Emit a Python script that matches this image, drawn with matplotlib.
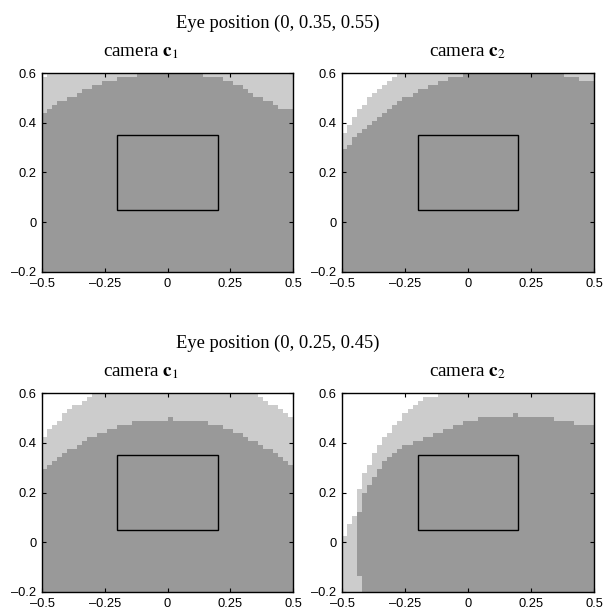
import numpy as np
import matplotlib
matplotlib.use("Agg")
import matplotlib.pyplot as plt
from matplotlib.colors import ListedColormap
from matplotlib.patches import Rectangle

plt.rcParams['mathtext.fontset'] = 'stix'

# ── grid of the region maps (50 x 50 cells) ─────────────────────────────
x_edges = np.linspace(-0.5, 0.5, 51)
y_edges = np.linspace(-0.2, 0.6, 51)

# screen rectangle drawn in every panel
screen_x = [-0.2, 0.2]
screen_y = [0.05, 0.35]

titles = ["Eye position (0, 0.35, 0.55)", "Eye position (0, 0.25, 0.45)"]
cameras = [r"camera $\mathbf{c}_1$", r"camera $\mathbf{c}_2$"]

xticks = [-0.5, -0.25, 0, 0.25, 0.5]
xtick_labels = ["\u20130.5", "\u20130.25", "0", "0.25", "0.5"]
yticks = [-0.2, 0, 0.2, 0.4, 0.6]
ytick_labels = ["\u20130.2", "0", "0.2", "0.4", "0.6"]

# ── upper limit of the dark / light areas for each column ───────────────
# eye (0, 0.35, 0.55), camera c1
p1_dark_top = [0.44, 0.456, 0.472, 0.488, 0.488, 0.504, 0.504, 0.52, 0.536, 0.536,
               0.552, 0.552, 0.568, 0.568, 0.568, 0.584, 0.584, 0.584, 0.584, 0.6,
               0.6, 0.6, 0.6, 0.6, 0.6, 0.6, 0.6, 0.6, 0.6, 0.6,
               0.6, 0.6, 0.584, 0.584, 0.584, 0.584, 0.568, 0.568, 0.552, 0.552,
               0.536, 0.52, 0.504, 0.504, 0.488, 0.488, 0.472, 0.456, 0.456, 0.456]
p1_light_top = [0.584, 0.6, 0.6, 0.6, 0.6, 0.6, 0.6, 0.6, 0.6, 0.6,
                0.6, 0.6, 0.6, 0.6, 0.6, 0.6, 0.6, 0.6, 0.6, 0.6,
                0.6, 0.6, 0.6, 0.6, 0.6, 0.6, 0.6, 0.6, 0.6, 0.6,
                0.6, 0.6, 0.6, 0.6, 0.6, 0.6, 0.6, 0.6, 0.6, 0.6,
                0.6, 0.6, 0.6, 0.6, 0.6, 0.6, 0.6, 0.6, 0.6, 0.6]

# eye (0, 0.35, 0.55), camera c2
p2_dark_top = [0.296, 0.312, 0.344, 0.36, 0.376, 0.392, 0.408, 0.424, 0.44, 0.456,
               0.472, 0.488, 0.504, 0.504, 0.52, 0.536, 0.536, 0.552, 0.552, 0.568,
               0.568, 0.584, 0.584, 0.584, 0.6, 0.6, 0.6, 0.6, 0.6, 0.6,
               0.6, 0.6, 0.6, 0.6, 0.6, 0.6, 0.6, 0.6, 0.6, 0.6,
               0.6, 0.6, 0.6, 0.6, 0.584, 0.584, 0.584, 0.568, 0.568, 0.568]
p2_light_top = [0.36, 0.392, 0.424, 0.456, 0.472, 0.504, 0.52, 0.536, 0.552, 0.568,
                0.584, 0.6, 0.6, 0.6, 0.6, 0.6, 0.6, 0.6, 0.6, 0.6,
                0.6, 0.6, 0.6, 0.6, 0.6, 0.6, 0.6, 0.6, 0.6, 0.6,
                0.6, 0.6, 0.6, 0.6, 0.6, 0.6, 0.6, 0.6, 0.6, 0.6,
                0.6, 0.6, 0.6, 0.6, 0.6, 0.6, 0.6, 0.6, 0.6, 0.6]

# eye (0, 0.25, 0.45), camera c1
p3_dark_top = [0.296, 0.312, 0.328, 0.344, 0.36, 0.376, 0.376, 0.392, 0.408, 0.424,
               0.424, 0.44, 0.44, 0.456, 0.456, 0.472, 0.472, 0.472, 0.488, 0.488,
               0.488, 0.488, 0.488, 0.488, 0.488, 0.504, 0.488, 0.488, 0.488, 0.488,
               0.488, 0.488, 0.488, 0.472, 0.472, 0.472, 0.456, 0.456, 0.44, 0.44,
               0.424, 0.408, 0.408, 0.392, 0.376, 0.376, 0.36, 0.344, 0.328, 0.312]
p3_light_top = [0.424, 0.456, 0.472, 0.488, 0.52, 0.536, 0.552, 0.552, 0.568, 0.584,
                0.6, 0.6, 0.6, 0.6, 0.6, 0.6, 0.6, 0.6, 0.6, 0.6,
                0.6, 0.6, 0.6, 0.6, 0.6, 0.6, 0.6, 0.6, 0.6, 0.6,
                0.6, 0.6, 0.6, 0.6, 0.6, 0.6, 0.6, 0.6, 0.6, 0.6,
                0.6, 0.6, 0.6, 0.584, 0.568, 0.552, 0.552, 0.536, 0.52, 0.504]

# eye (0, 0.25, 0.45), camera c2
nan = np.nan
p4_dark_top = [nan, nan, nan, 0.12, 0.2, 0.232, 0.264, 0.296, 0.328, 0.344,
               0.36, 0.376, 0.392, 0.392, 0.408, 0.408, 0.424, 0.424, 0.44, 0.44,
               0.456, 0.456, 0.472, 0.472, 0.488, 0.488, 0.488, 0.504, 0.504, 0.504,
               0.504, 0.504, 0.504, 0.504, 0.52, 0.504, 0.504, 0.504, 0.504, 0.504,
               0.504, 0.504, 0.488, 0.488, 0.488, 0.488, 0.472, 0.472, 0.472, 0.472]
p4_dark_bottom = [nan, nan, nan, -0.136, -0.2, -0.2, -0.2, -0.2, -0.2, -0.2,
                  -0.2, -0.2, -0.2, -0.2, -0.2, -0.2, -0.2, -0.2, -0.2, -0.2,
                  -0.2, -0.2, -0.2, -0.2, -0.2, -0.2, -0.2, -0.2, -0.2, -0.2,
                  -0.2, -0.2, -0.2, -0.2, -0.2, -0.2, -0.2, -0.2, -0.2, -0.2,
                  -0.2, -0.2, -0.2, -0.2, -0.2, -0.2, -0.2, -0.2, -0.2, -0.2]
p4_light_top = [0.024, 0.072, 0.104, 0.216, 0.28, 0.312, 0.36, 0.392, 0.424, 0.44,
                0.472, 0.488, 0.52, 0.536, 0.552, 0.568, 0.584, 0.584, 0.584, 0.6,
                0.6, 0.6, 0.6, 0.6, 0.6, 0.6, 0.6, 0.6, 0.6, 0.6,
                0.6, 0.6, 0.6, 0.6, 0.6, 0.6, 0.6, 0.6, 0.6, 0.6,
                0.6, 0.6, 0.6, 0.6, 0.6, 0.6, 0.6, 0.6, 0.6, 0.6]

cmap = ListedColormap(["#ffffff", "#cccccc", "#999999"])


def region_grid(dark_top, light_top, dark_bottom=None):
    """0 = white, 1 = light grey, 2 = dark grey, one row per y cell."""
    yc = (y_edges[:-1] + y_edges[1:]) / 2
    dark_top = np.asarray(dark_top, dtype=float)
    light_top = np.asarray(light_top, dtype=float)
    if dark_bottom is None:
        dark_bottom = np.full(len(dark_top), -0.2)
    dark_bottom = np.asarray(dark_bottom, dtype=float)
    grid = np.zeros((len(yc), len(dark_top)))
    grid[yc[:, None] < light_top[None, :]] = 1
    with np.errstate(invalid="ignore"):
        dark = (yc[:, None] < dark_top[None, :]) & (yc[:, None] > dark_bottom[None, :])
    grid[dark] = 2
    return grid


panels = [
    region_grid(p1_dark_top, p1_light_top),
    region_grid(p2_dark_top, p2_light_top),
    region_grid(p3_dark_top, p3_light_top),
    region_grid(p4_dark_top, p4_light_top, p4_dark_bottom),
]

W, H = 605, 616
fig = plt.figure(figsize=(W / 100, H / 100), dpi=100)

# axes boxes in pixels: left, top, right, bottom
boxes = [(42, 73, 293, 272), (342, 73, 594, 272),
         (42, 393, 293, 592), (342, 393, 594, 592)]

for grid, (l, t, r, b) in zip(panels, boxes):
    ax = fig.add_axes([l / W, 1 - b / H, (r - l) / W, (b - t) / H])
    ax.pcolormesh(x_edges, y_edges, grid, cmap=cmap, vmin=0, vmax=2)
    ax.add_patch(Rectangle((screen_x[0], screen_y[0]), screen_x[1] - screen_x[0],
                           screen_y[1] - screen_y[0], fill=False, ec="black", lw=1.0))
    ax.set_xlim(-0.5, 0.5)
    ax.set_ylim(-0.2, 0.6)
    ax.set_xticks(xticks)
    ax.set_xticklabels(xtick_labels, family="Liberation Sans", fontsize=9.3)
    ax.set_yticks(yticks)
    ax.set_yticklabels(ytick_labels, family="Liberation Sans", fontsize=9.3)
    ax.tick_params(direction="in", length=3, width=0.8, top=True, right=True)
    ax.tick_params(axis="x", pad=4.5)
    ax.tick_params(axis="y", pad=4)
    for s in ax.spines.values():
        s.set_linewidth(1.0)

# ── titles ──────────────────────────────────────────────────────────────
for k, dy in enumerate([0, 320]):
    fig.text(278 / W, 1 - (28 + dy) / H, titles[k], ha="center", va="baseline",
             family="Liberation Serif", fontsize=13.3)
    fig.text(103 / W, 1 - (56 + dy) / H, cameras[0], ha="left", va="baseline",
             family="Liberation Serif", fontsize=13.8)
    fig.text(429 / W, 1 - (56 + dy) / H, cameras[1], ha="left", va="baseline",
             family="Liberation Serif", fontsize=13.8)

fig.savefig("out.png", dpi=100)
